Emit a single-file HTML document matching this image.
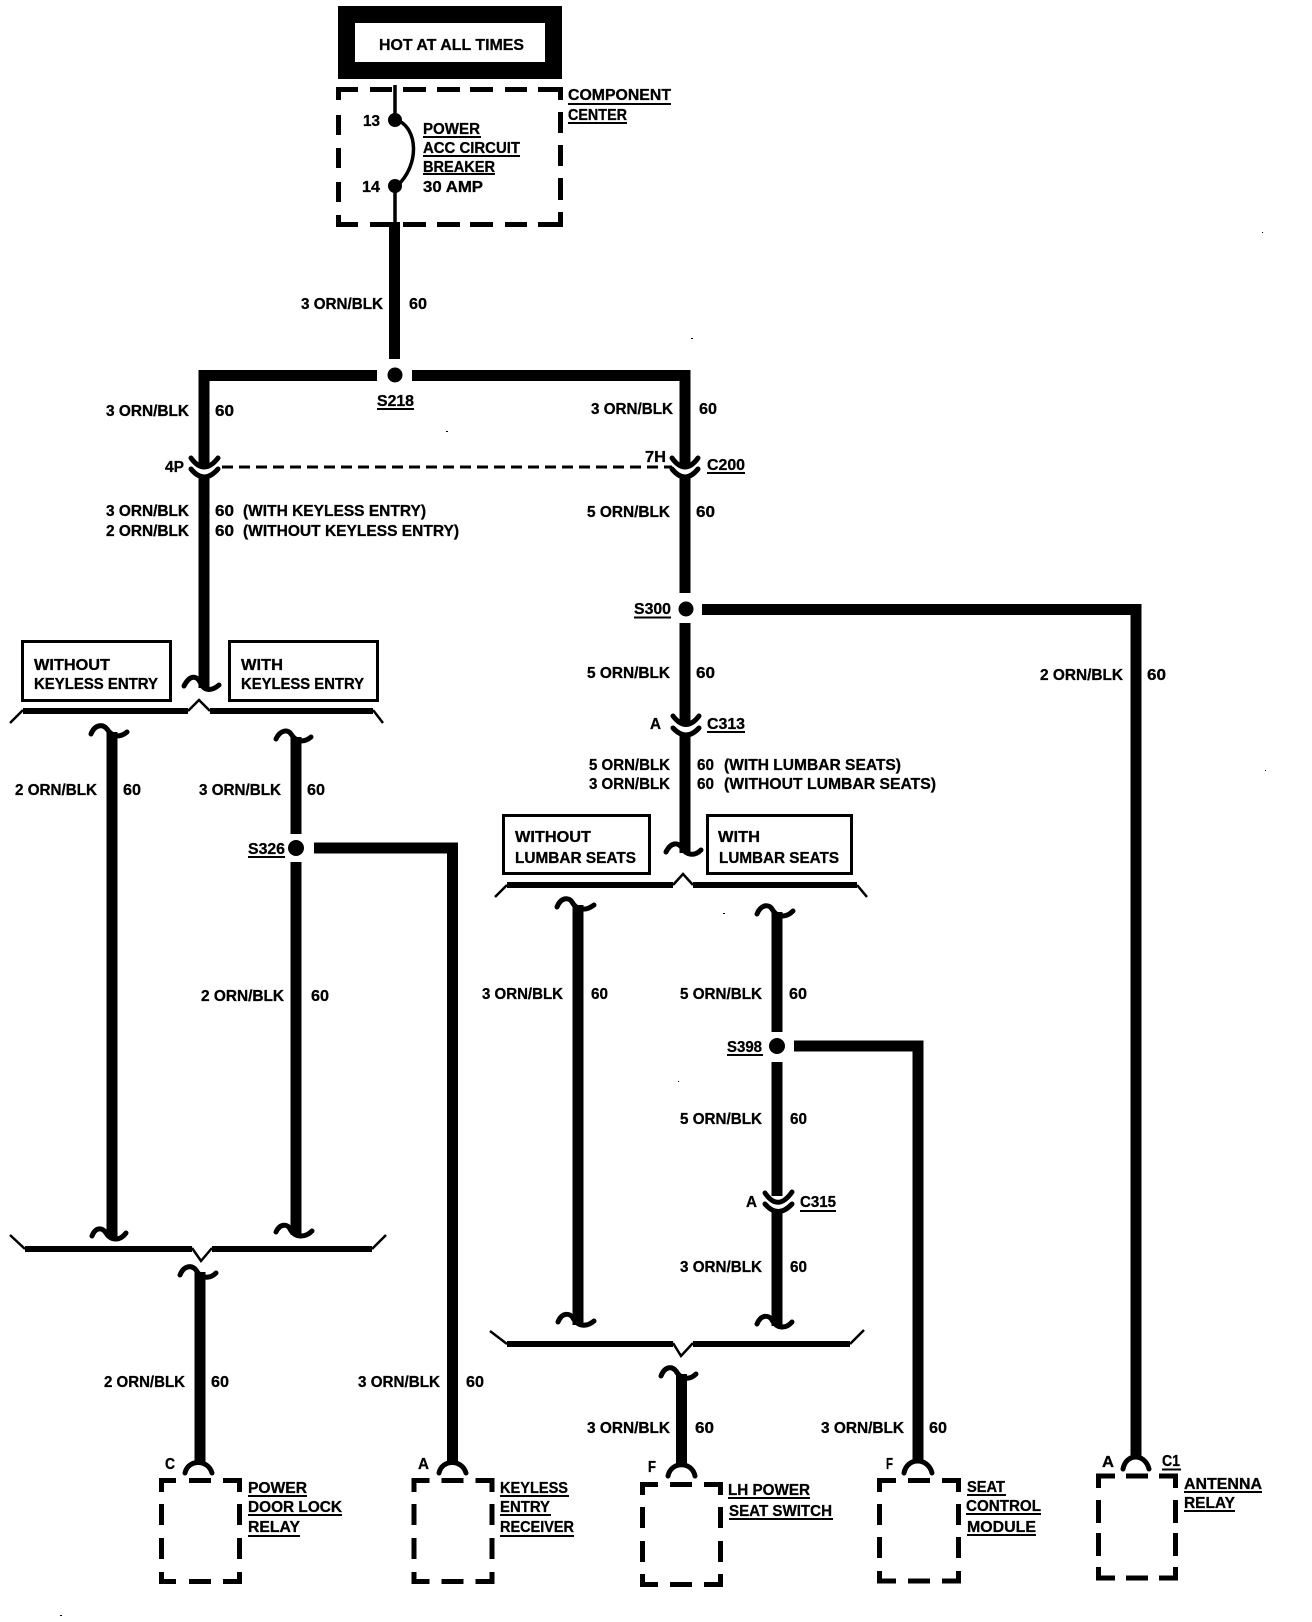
<!DOCTYPE html>
<html><head><meta charset="utf-8"><style>
html,body{margin:0;padding:0;background:#fff}
svg{display:block}
text{font-family:"Liberation Sans",sans-serif;font-weight:700;font-size:16px;fill:#000;stroke:#000;stroke-width:.3}
.w{stroke:#000;stroke-width:11;fill:none}
.c{stroke:#000;stroke-width:5;fill:none;stroke-linecap:round}
.d{stroke:#000;stroke-width:5;fill:none}
.b{stroke:#000;stroke-width:3;fill:none}
.u{stroke:#000;stroke-width:2;fill:none}
</style></head><body>
<svg xmlns="http://www.w3.org/2000/svg" width="1312" height="1622" viewBox="0 0 1312 1622">
<rect width="1312" height="1622" fill="#fff"/>
<!-- hot box -->
<rect x="346.5" y="14.5" width="207" height="56" fill="none" stroke="#000" stroke-width="17"/>
<text x="379" y="50" textLength="145" lengthAdjust="spacingAndGlyphs">HOT AT ALL TIMES</text>
<!-- component center -->
<path class="d" d="M338.500,100V89.500H358M370,89.500H392M403,89.500H426M437,89.500H460M470,89.500H493M505,89.500H527M538,89.500H560.500V100M338.500,115V135M338.500,148V168M338.500,182V202M338.500,215V224.500H358M370,224.500H392M403,224.500H426M437,224.500H460M470,224.500H493M505,224.500H527M538,224.500H560.500V212M560.500,112V133M560.500,145V166M560.500,178V200"/>
<path d="M395,85V120M395,186V222" stroke="#000" stroke-width="3.500" fill="none"/>
<circle cx="395" cy="120" r="7"/><circle cx="395" cy="186" r="7"/>
<path d="M397,120C418,128 420,165 397,186" stroke="#000" stroke-width="3.500" fill="none"/>
<text x="363" y="126" textLength="17" lengthAdjust="spacingAndGlyphs">13</text>
<text x="362" y="192" textLength="18" lengthAdjust="spacingAndGlyphs">14</text>
<text x="423" y="134" textLength="57" lengthAdjust="spacingAndGlyphs">POWER</text><path class="u" d="M423,137H481"/>
<text x="423" y="153" textLength="97" lengthAdjust="spacingAndGlyphs">ACC CIRCUIT</text><path class="u" d="M423,156H520"/>
<text x="423" y="172" textLength="72" lengthAdjust="spacingAndGlyphs">BREAKER</text><path class="u" d="M423,174H495"/>
<text x="423" y="192" textLength="60" lengthAdjust="spacingAndGlyphs">30 AMP</text>
<text x="568" y="100" textLength="103" lengthAdjust="spacingAndGlyphs">COMPONENT</text><path class="u" d="M568,104H671"/>
<text x="568" y="120" textLength="59" lengthAdjust="spacingAndGlyphs">CENTER</text><path class="u" d="M568,123H627"/>
<!-- main wires -->
<path class="w" d="M394.500,222V359"/>
<path class="w" d="M204,467V375.500H377"/>
<path class="w" d="M412,375.500H685V467"/>
<circle cx="395" cy="375" r="7.500"/>
<text x="377" y="406" textLength="37" lengthAdjust="spacingAndGlyphs">S218</text><path class="u" d="M377,409H414"/>
<text x="301" y="309" textLength="82" lengthAdjust="spacingAndGlyphs">3 ORN/BLK</text>
<text x="409" y="309" textLength="18" lengthAdjust="spacingAndGlyphs">60</text>
<text x="106" y="416" textLength="83" lengthAdjust="spacingAndGlyphs">3 ORN/BLK</text>
<text x="215" y="416" textLength="19" lengthAdjust="spacingAndGlyphs">60</text>
<text x="591" y="414" textLength="82" lengthAdjust="spacingAndGlyphs">3 ORN/BLK</text>
<text x="699" y="414" textLength="18" lengthAdjust="spacingAndGlyphs">60</text>
<!-- C200 -->
<path d="M222,467H672" stroke="#000" stroke-width="3" stroke-dasharray="11 6" fill="none"/>
<path class="c" d="M191,458Q204,476 218,458"/>
<path class="c" d="M191,469Q204,485 218,469"/>
<path class="c" d="M672,458Q685,476 698,458"/>
<path class="c" d="M672,469Q685,485 698,469"/>
<text x="165" y="472" textLength="19" lengthAdjust="spacingAndGlyphs">4P</text>
<text x="645" y="462" textLength="21" lengthAdjust="spacingAndGlyphs">7H</text>
<text x="707" y="470" textLength="38" lengthAdjust="spacingAndGlyphs">C200</text><path class="u" d="M707,473H745"/>
<!-- left down -->
<path class="w" d="M204,478V688"/>
<path class="c" d="M184,686C190,674 197,676 200,682C204,692 212,691 219,685"/>
<text x="106" y="516" textLength="83" lengthAdjust="spacingAndGlyphs">3 ORN/BLK</text>
<text x="106" y="536" textLength="83" lengthAdjust="spacingAndGlyphs">2 ORN/BLK</text>
<text x="215" y="516" textLength="19" lengthAdjust="spacingAndGlyphs">60</text>
<text x="215" y="536" textLength="19" lengthAdjust="spacingAndGlyphs">60</text>
<text x="243" y="516" textLength="183" lengthAdjust="spacingAndGlyphs">(WITH KEYLESS ENTRY)</text>
<text x="243" y="536" textLength="216" lengthAdjust="spacingAndGlyphs">(WITHOUT KEYLESS ENTRY)</text>
<rect class="b" x="22.500" y="641.500" width="148" height="59"/>
<rect class="b" x="229.500" y="641.500" width="148" height="59"/>
<text x="34" y="670" textLength="76" lengthAdjust="spacingAndGlyphs">WITHOUT</text>
<text x="34" y="689" textLength="124" lengthAdjust="spacingAndGlyphs">KEYLESS ENTRY</text>
<text x="241" y="670" textLength="42" lengthAdjust="spacingAndGlyphs">WITH</text>
<text x="241" y="689" textLength="123" lengthAdjust="spacingAndGlyphs">KEYLESS ENTRY</text>
<path d="M23,711H188M210,711H373" stroke="#000" stroke-width="6" fill="none"/>
<path d="M10,723L23,710M188,711L199,700L210,711M373,710L383,723" stroke="#000" stroke-width="2.500" fill="none"/>
<!-- left branch wires -->
<path class="w" d="M112,732V1238"/>
<path class="c" d="M91,734C95,724 103,724 107,729C112,737 120,738 127,732"/>
<path class="c" d="M92,1236C96,1226 103,1228 106,1233C111,1241 120,1241 126,1233"/>
<text x="15" y="795" textLength="82" lengthAdjust="spacingAndGlyphs">2 ORN/BLK</text>
<text x="123" y="795" textLength="18" lengthAdjust="spacingAndGlyphs">60</text>
<path class="w" d="M296,737V834M296,862V1235"/>
<path class="c" d="M276,739C280,730 288,729 291,734C296,742 304,743 311,737"/>
<path class="c" d="M276,1232C280,1223 288,1224 290,1229C295,1238 305,1238 312,1231"/>
<circle cx="296" cy="848" r="8"/>
<path class="w" d="M314,848H452.500V1463"/>
<text x="248" y="854" textLength="37" lengthAdjust="spacingAndGlyphs">S326</text><path class="u" d="M248,857H285"/>
<text x="199" y="795" textLength="82" lengthAdjust="spacingAndGlyphs">3 ORN/BLK</text>
<text x="307" y="795" textLength="18" lengthAdjust="spacingAndGlyphs">60</text>
<text x="201" y="1001" textLength="83" lengthAdjust="spacingAndGlyphs">2 ORN/BLK</text>
<text x="311" y="1001" textLength="18" lengthAdjust="spacingAndGlyphs">60</text>
<!-- lower left brace -->
<path d="M25,1249H192M212,1249H372" stroke="#000" stroke-width="6" fill="none"/>
<path d="M10,1235L25,1249M192,1248L201,1261L212,1248M372,1249L386,1235" stroke="#000" stroke-width="2.500" fill="none"/>
<path class="w" d="M200,1272V1465"/>
<path class="c" d="M180,1275C184,1265 192,1265 196,1270C201,1279 210,1279 216,1273"/>
<path class="c" d="M185,1473C188,1459 208,1459 212,1473"/>
<path class="c" d="M439,1473C442,1459 462,1459 466,1473"/>
<text x="104" y="1387" textLength="81" lengthAdjust="spacingAndGlyphs">2 ORN/BLK</text>
<text x="211" y="1387" textLength="18" lengthAdjust="spacingAndGlyphs">60</text>
<text x="358" y="1387" textLength="82" lengthAdjust="spacingAndGlyphs">3 ORN/BLK</text>
<text x="466" y="1387" textLength="18" lengthAdjust="spacingAndGlyphs">60</text>
<text x="165" y="1469" textLength="10" lengthAdjust="spacingAndGlyphs">C</text>
<text x="418" y="1469" textLength="11" lengthAdjust="spacingAndGlyphs">A</text>
<!-- device boxes -->
<path class="d" d="M161.500,1492V1480.500H176M189,1480.500H211M223,1480.500H239.500V1492M161.500,1504V1525M161.500,1538V1559M161.500,1572V1581.500H176M189,1581.500H211M223,1581.500H239.500V1572M239.500,1504V1525M239.500,1538V1559"/>
<path class="d" d="M414,1492V1480.500H429.500M441.500,1480.500H463.500M475.500,1480.500H492V1492M414,1504V1525M414,1538V1559M414,1572V1581.500H429.500M441.500,1581.500H463.500M475.500,1581.500H492V1572M492,1504V1525M492,1538V1559"/>
<path class="d" d="M642.500,1495V1484.500H658M670,1484.500H692M704,1484.500H720.500V1495M642.500,1507V1528M642.500,1541V1562M642.500,1574V1584.500H658M670,1584.500H692M704,1584.500H720.500V1574M720.500,1507V1528M720.500,1541V1562"/>
<path class="d" d="M879.500,1492V1480.500H896M908,1480.500H930M942,1480.500H958.500V1492M879.500,1504V1525M879.500,1537V1558M879.500,1571V1581H896M908,1581H930M942,1581H958.500V1571M958.500,1504V1525M958.500,1537V1558"/>
<path class="d" d="M1098.500,1488V1476H1115M1126,1476H1148M1159,1476H1175.500V1488M1098.500,1500V1523M1098.500,1533V1556M1098.500,1567V1578H1115M1126,1578H1148M1159,1578H1175.500V1567M1175.500,1500V1523M1175.500,1533V1556"/>
<text x="248" y="1493" textLength="59" lengthAdjust="spacingAndGlyphs">POWER</text><path class="u" d="M248,1496H307"/>
<text x="248" y="1512" textLength="94" lengthAdjust="spacingAndGlyphs">DOOR LOCK</text><path class="u" d="M248,1515H342"/>
<text x="248" y="1532" textLength="52" lengthAdjust="spacingAndGlyphs">RELAY</text><path class="u" d="M248,1536H300"/>
<text x="500" y="1493" textLength="68" lengthAdjust="spacingAndGlyphs">KEYLESS</text><path class="u" d="M500,1496H569"/>
<text x="500" y="1512" textLength="50" lengthAdjust="spacingAndGlyphs">ENTRY</text><path class="u" d="M500,1515H551"/>
<text x="500" y="1532" textLength="74" lengthAdjust="spacingAndGlyphs">RECEIVER</text><path class="u" d="M500,1536H574"/>
<text x="728" y="1495" textLength="82" lengthAdjust="spacingAndGlyphs">LH POWER</text><path class="u" d="M728,1498H810"/>
<text x="729" y="1516" textLength="103" lengthAdjust="spacingAndGlyphs">SEAT SWITCH</text><path class="u" d="M729,1519H833"/>
<text x="967" y="1492" textLength="38" lengthAdjust="spacingAndGlyphs">SEAT</text><path class="u" d="M967,1495H1006"/>
<text x="966" y="1511" textLength="75" lengthAdjust="spacingAndGlyphs">CONTROL</text><path class="u" d="M966,1514H1041"/>
<text x="967" y="1532" textLength="69" lengthAdjust="spacingAndGlyphs">MODULE</text><path class="u" d="M967,1535H1036"/>
<text x="1184" y="1489" textLength="78" lengthAdjust="spacingAndGlyphs">ANTENNA</text><path class="u" d="M1184,1492H1262"/>
<text x="1184" y="1508" textLength="51" lengthAdjust="spacingAndGlyphs">RELAY</text><path class="u" d="M1184,1511H1235"/>
<!-- right main -->
<path class="w" d="M685,477V593M685,623V723M685,735V853"/>
<text x="587" y="517" textLength="83" lengthAdjust="spacingAndGlyphs">5 ORN/BLK</text>
<text x="696" y="517" textLength="19" lengthAdjust="spacingAndGlyphs">60</text>
<circle cx="686" cy="609" r="7.500"/>
<text x="634" y="614" textLength="37" lengthAdjust="spacingAndGlyphs">S300</text><path class="u" d="M634,617.500H671"/>
<path class="w" d="M702,609.500H1136V1458"/>
<text x="587" y="678" textLength="83" lengthAdjust="spacingAndGlyphs">5 ORN/BLK</text>
<text x="696" y="678" textLength="19" lengthAdjust="spacingAndGlyphs">60</text>
<text x="1040" y="680" textLength="83" lengthAdjust="spacingAndGlyphs">2 ORN/BLK</text>
<text x="1147" y="680" textLength="19" lengthAdjust="spacingAndGlyphs">60</text>
<path class="c" d="M673,716Q686,733 699,716"/>
<path class="c" d="M673,728Q686,742 699,728"/>
<text x="650" y="729" textLength="11" lengthAdjust="spacingAndGlyphs">A</text>
<text x="707" y="729" textLength="38" lengthAdjust="spacingAndGlyphs">C313</text><path class="u" d="M707,732H745"/>
<text x="589" y="770" textLength="81" lengthAdjust="spacingAndGlyphs">5 ORN/BLK</text>
<text x="589" y="789" textLength="81" lengthAdjust="spacingAndGlyphs">3 ORN/BLK</text>
<text x="697" y="770" textLength="17" lengthAdjust="spacingAndGlyphs">60</text>
<text x="697" y="789" textLength="17" lengthAdjust="spacingAndGlyphs">60</text>
<text x="724" y="770" textLength="177" lengthAdjust="spacingAndGlyphs">(WITH LUMBAR SEATS)</text>
<text x="724" y="789" textLength="212" lengthAdjust="spacingAndGlyphs">(WITHOUT LUMBAR SEATS)</text>
<path class="c" d="M666,852C671,842 678,842 682,848C687,856 695,856 701,850"/>
<rect class="b" x="503.500" y="815.500" width="146" height="58"/>
<rect class="b" x="707.500" y="815.500" width="144" height="58"/>
<text x="515" y="842" textLength="76" lengthAdjust="spacingAndGlyphs">WITHOUT</text>
<text x="515" y="863" textLength="121" lengthAdjust="spacingAndGlyphs">LUMBAR SEATS</text>
<text x="718" y="842" textLength="42" lengthAdjust="spacingAndGlyphs">WITH</text>
<text x="719" y="863" textLength="120" lengthAdjust="spacingAndGlyphs">LUMBAR SEATS</text>
<path d="M507,885H673M693,885H857" stroke="#000" stroke-width="6" fill="none"/>
<path d="M495,897L507,885M673,885L683,874L693,885M857,885L867,897" stroke="#000" stroke-width="2.500" fill="none"/>
<!-- lumbar wires -->
<path class="w" d="M578,905V1325"/>
<path class="c" d="M557,907C561,897 569,897 572,902C577,911 586,911 594,905"/>
<path class="c" d="M558,1322C562,1312 570,1313 573,1318C578,1327 587,1327 594,1321"/>
<text x="482" y="999" textLength="81" lengthAdjust="spacingAndGlyphs">3 ORN/BLK</text>
<text x="591" y="999" textLength="17" lengthAdjust="spacingAndGlyphs">60</text>
<path class="w" d="M777,912V1032M777,1062V1196M777,1210V1326"/>
<path class="c" d="M757,914C761,904 769,904 772,909C777,918 786,918 793,911"/>
<path class="c" d="M757,1324C761,1314 769,1315 772,1320C777,1329 786,1329 792,1322"/>
<text x="680" y="999" textLength="82" lengthAdjust="spacingAndGlyphs">5 ORN/BLK</text>
<text x="789" y="999" textLength="18" lengthAdjust="spacingAndGlyphs">60</text>
<circle cx="777" cy="1046" r="8"/>
<path class="w" d="M794,1046H918V1462"/>
<text x="727" y="1052" textLength="35" lengthAdjust="spacingAndGlyphs">S398</text><path class="u" d="M727,1055H763"/>
<text x="680" y="1124" textLength="82" lengthAdjust="spacingAndGlyphs">5 ORN/BLK</text>
<text x="790" y="1124" textLength="17" lengthAdjust="spacingAndGlyphs">60</text>
<path class="c" d="M765,1193Q778,1212 792,1192"/>
<path class="c" d="M765,1204Q778,1219 792,1204"/>
<text x="746" y="1207" textLength="11" lengthAdjust="spacingAndGlyphs">A</text>
<text x="800" y="1207" textLength="36" lengthAdjust="spacingAndGlyphs">C315</text><path class="u" d="M800,1211H836"/>
<text x="680" y="1272" textLength="82" lengthAdjust="spacingAndGlyphs">3 ORN/BLK</text>
<text x="790" y="1272" textLength="17" lengthAdjust="spacingAndGlyphs">60</text>
<!-- lower right brace -->
<path d="M507,1344H673M693,1344H850" stroke="#000" stroke-width="6" fill="none"/>
<path d="M490,1331L507,1344M673,1343L681,1356L693,1343M850,1344L864,1330" stroke="#000" stroke-width="2.500" fill="none"/>
<path class="w" d="M681.500,1374V1465"/>
<path class="c" d="M661,1376C665,1366 672,1366 676,1371C681,1380 690,1380 696,1374"/>
<path class="c" d="M668,1476C671,1461 692,1461 695,1476"/>
<path class="c" d="M904,1473C907,1457 928,1457 932,1473"/>
<path class="c" d="M1123,1469C1126,1453 1145,1453 1149,1469"/>
<text x="587" y="1433" textLength="83" lengthAdjust="spacingAndGlyphs">3 ORN/BLK</text>
<text x="695" y="1433" textLength="19" lengthAdjust="spacingAndGlyphs">60</text>
<text x="821" y="1433" textLength="83" lengthAdjust="spacingAndGlyphs">3 ORN/BLK</text>
<text x="929" y="1433" textLength="18" lengthAdjust="spacingAndGlyphs">60</text>
<text x="648" y="1472" textLength="8" lengthAdjust="spacingAndGlyphs">F</text>
<text x="886" y="1469" textLength="7" lengthAdjust="spacingAndGlyphs">F</text>
<text x="1102" y="1467" textLength="12" lengthAdjust="spacingAndGlyphs">A</text>
<text x="1162" y="1466" textLength="18" lengthAdjust="spacingAndGlyphs">C1</text><path class="u" d="M1162,1469.500H1181"/>
<!-- specks -->
<g fill="#000"><rect x="691" y="338" width="2" height="1"/><rect x="446" y="431" width="2" height="1"/><rect x="60" y="1615" width="2" height="1"/><rect x="678" y="1081" width="1" height="1"/><rect x="1262" y="232" width="1" height="1"/><rect x="1265" y="770" width="1" height="1"/><rect x="723" y="913" width="2" height="1"/></g>
</svg>
</body></html>
